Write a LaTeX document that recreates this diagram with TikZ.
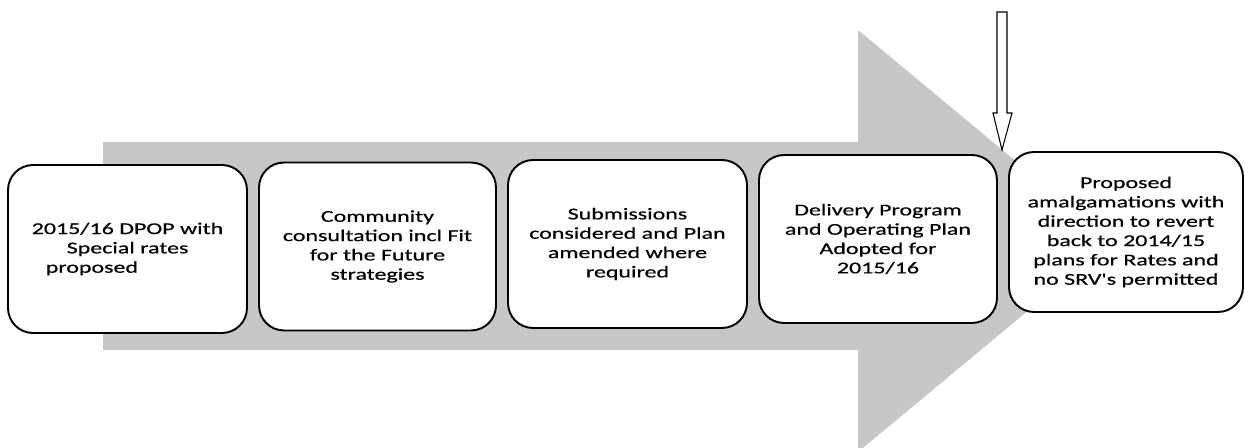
\documentclass[tikz,border=0pt]{standalone}
\usepackage{fontspec}
\newfontfamily\stagefont[FakeStretch=1.45, FakeBold=0.5]{Carlito}
\usetikzlibrary{positioning}

\begin{document}
\begin{tikzpicture}[
    x=0.02cm, y=-0.02cm,
    stage/.style={rectangle, rounded corners=0.5cm, draw=black, line width=1.1pt,
                  fill=white, minimum width=4.76cm, minimum height=3.36cm,
                  align=center, font=\stagefont\fontsize{9.4}{11}\selectfont},
    bigarrow/.style={fill=black!22, draw=none},
    pointer/.style={fill=white, draw=black, line width=0.6pt}
  ]
    \useasboundingbox (0,0) rectangle (1245,448);

    % Timeline arrow behind the stages
    \path[bigarrow] (103,142) -- (858,142) -- (858,30) -- (1112,241)
        -- (858,452) -- (858,350) -- (103,350) -- cycle;

    % Stages
    \node[stage, minimum width=4.78cm, align=left] (dpop) at (127.5,249)
        {2015/16 DPOP with\\\hspace*{0.7cm}Special rates\\\hspace*{0.28cm}proposed};
    \node[stage, minimum width=4.74cm] (consult) at (377.5,246.5)
        {Community\\consultation incl Fit\\for the Future\\strategies};
    \node[stage, minimum width=4.78cm] (submit) at (627.5,244)
        {Submissions\\considered and Plan\\amended where\\required};
    \node[stage] (adopt) at (878,239)
        {Delivery Program\\and Operating Plan\\Adopted for\\2015/16};
    \node[stage, minimum width=4.68cm, minimum height=3.2cm] (amalg) at (1126,232)
        {Proposed\\amalgamations with\\direction to revert\\back to 2014/15\\plans for Rates and\\no SRV's permitted};

    % Marker pointing at the gap between the last two stages
    \path[pointer] (997,12) -- (1007,12) -- (1007,113) -- (1012,113) -- (1002,150)
        -- (993,113) -- (997,113) -- cycle;

\end{tikzpicture}
\end{document}
